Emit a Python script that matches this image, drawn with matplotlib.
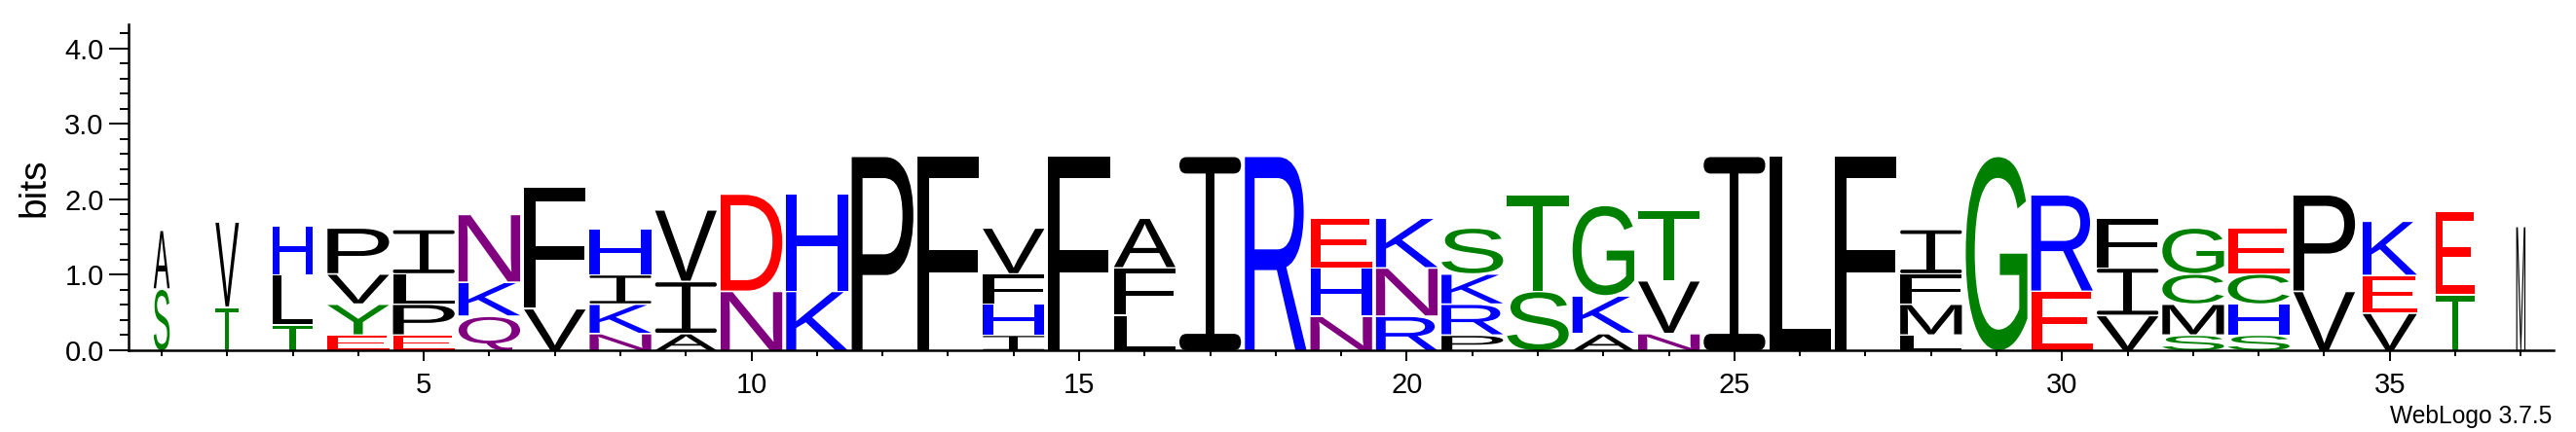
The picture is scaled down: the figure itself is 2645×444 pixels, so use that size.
#
#   Sequence logo (WebLogo style) redrawn with matplotlib
#
import matplotlib
matplotlib.use("Agg")
from matplotlib import pyplot as plt
from matplotlib.textpath import TextPath
from matplotlib.patches import PathPatch, FancyBboxPatch, Rectangle
from matplotlib.font_manager import FontProperties
from matplotlib.transforms import Affine2D

#   DATA
# Letters of every stack, read from bottom to top
stacks = ["SA", "TV", "TLH", "EYVP", "EPLI", "QKN", "VF", "NKIH", "AIV", "ND",
          "KH", "P", "F", "IHFV", "F", "LFA", "I", "R", "NHE", "RNK",
          "PRKS", "ST", "AKG", "NVT", "I", "L", "F", "LMFI", "G", "ER",
          "VIF", "SMCG", "SHCE", "VP", "VEK", "TE", "M"]
# Height of every letter in bits (same order as in stacks)
bits = [[0.80, 0.78], [0.56, 1.13], [0.32, 0.67, 0.65],
        [0.19, 0.41, 0.40, 0.61], [0.19, 0.41, 0.40, 0.59], [0.44, 0.45, 0.90],
        [0.54, 1.61], [0.21, 0.39, 0.39, 0.61], [0.21, 0.69, 0.95],
        [0.77, 1.29], [0.77, 1.29], [2.56], [2.56],
        [0.19, 0.41, 0.40, 0.61], [2.56], [0.45, 0.63, 0.66], [2.56], [2.56],
        [0.44, 0.64, 0.66], [0.44, 0.64, 0.66], [0.19, 0.41, 0.40, 0.61],
        [0.77, 1.28], [0.21, 0.50, 1.20], [0.21, 0.70, 0.93],
        [2.56], [2.56], [2.56], [0.19, 0.41, 0.40, 0.59], [2.56],
        [0.77, 1.28], [0.45, 0.63, 0.66], [0.19, 0.41, 0.40, 0.61],
        [0.19, 0.41, 0.40, 0.61], [0.77, 1.28], [0.48, 0.50, 0.72],
        [0.72, 1.11], [1.63]]
# Fraction of non-gap symbols -> stack width
width_frac = [0.26, 0.38, 0.64] + [1.0] * 31 + [0.88, 0.63, 0.15]
positions = list(range(1, len(stacks) + 1))

#   STYLE
# WebLogo "chemistry" colour scheme
colors = {}
for aa in "GSTYC":
    colors[aa] = "#008000"
for aa in "QN":
    colors[aa] = "#800080"
for aa in "KRH":
    colors[aa] = "#0000FF"
for aa in "DE":
    colors[aa] = "#FF0000"
for aa in "AVLIPWFM":
    colors[aa] = "#000000"

font_main = FontProperties(family="Liberation Sans")
full_width = 0.94
gap = 0.022


def draw_I(ax, xc, y0, w, h, color):
    # WebLogo's I: two round-ended bars and a thin stem
    bar = 0.085 * h
    stem = 0.143 * w
    for yb in (y0, y0 + h - bar):
        ax.add_patch(FancyBboxPatch((xc - w / 2, yb), w, bar,
                                    boxstyle="round,pad=0,rounding_size=%g" % (bar / 2),
                                    facecolor=color, edgecolor="none"))
    ax.add_patch(Rectangle((xc - stem / 2, y0 + bar * 0.9), stem,
                           h - 1.8 * bar, facecolor=color, edgecolor="none"))


def draw_letter(ax, ch, xc, y0, w, h, color):
    if ch == "I":
        draw_I(ax, xc, y0, w, h, color)
        return
    # glyph outline stretched so that its ink fills the box
    path = TextPath((0, 0), ch, size=1, prop=font_main)
    ext = path.get_extents()
    t = (Affine2D().translate(-ext.x0, -ext.y0)
         .scale(w / ext.width, h / ext.height)
         .translate(xc - w / 2, y0))
    ax.add_patch(PathPatch(t.transform_path(path), facecolor=color,
                           edgecolor="none"))


#   PLOT
fig = plt.figure(figsize=(26.45, 4.44), dpi=100)
ax = fig.add_axes([131.7 / 2645, 84 / 444, (2622 - 131.7) / 2645, 335 / 444])

for pos, letters, heights, frac in zip(positions, stacks, bits, width_frac):
    y = 0.0
    for i, (ch, h) in enumerate(zip(letters, heights)):
        bottom = y + (gap if i > 0 else 0.0)
        draw_letter(ax, ch, pos, bottom, full_width * frac, y + h - bottom,
                    colors[ch])
        y += h

ax.set_xlim(0.49, 37.5)
ax.set_ylim(0, 4.32)
for side in ["top", "right"]:
    ax.spines[side].set_visible(False)
for side in ["left", "bottom"]:
    ax.spines[side].set_linewidth(1.8)

# x axis: every position ticked, every fifth labelled
ax.set_xticks([p for p in positions if p % 5 == 0])
ax.set_xticks(positions, minor=True)
ax.tick_params(axis="x", which="major", length=8, width=1.4, pad=8,
               labelsize=21)
ax.tick_params(axis="x", which="minor", length=4.3, width=1.4)
# y axis
ax.set_yticks([0, 1, 2, 3, 4])
ax.set_yticklabels(["0.0", "1.0", "2.0", "3.0", "4.0"])
ax.set_yticks([i * 0.2 for i in range(22)], minor=True)
ax.tick_params(axis="y", which="major", length=14.4, width=1.4, pad=3.6,
               labelsize=21)
ax.tick_params(axis="y", which="minor", length=6.5, width=1.4)
for lab in ax.get_xticklabels() + ax.get_yticklabels():
    lab.set_family("Liberation Sans")

fig.text(35.5 / 2645, 1 - 192.5 / 444, "bits", rotation=90, ha="center",
         va="center", fontsize=28, family="Liberation Sans")
fig.text(2620 / 2645, 9 / 444, "WebLogo 3.7.5", ha="right", va="baseline",
         fontsize=17.7, family="Liberation Sans")

fig.savefig("out.png", dpi=100)
